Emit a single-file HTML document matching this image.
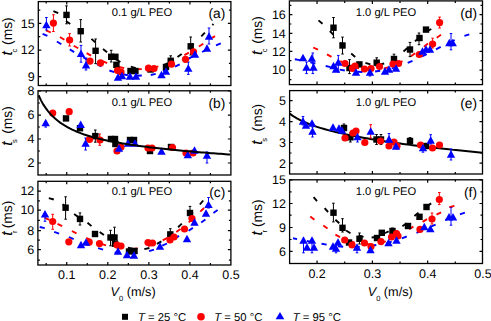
<!DOCTYPE html>
<html><head><meta charset="utf-8"><style>
html,body{margin:0;padding:0;background:#fff;width:491px;height:321px;overflow:hidden}
svg{position:absolute;left:0;top:0}
text{font-family:"Liberation Sans",sans-serif;fill:#000;text-rendering:geometricPrecision}
.tk{font-size:12.5px}
.lg{font-size:11.3px}
.at{font-size:12.7px}
.yt{font-size:13.8px}
.ti{font-size:11.2px}
.lb{font-size:13.8px}
</style></head><body>
<svg width="491" height="321" viewBox="0 0 491 321">
<rect x="38.3" y="1.6" width="192.60" height="83.90" fill="none" stroke="#000" stroke-width="1.3"/>
<path d="M38.3,76.6h3.0M230.9,76.6h-3.0M38.3,50.1h3.0M230.9,50.1h-3.0M38.3,23.4h3.0M230.9,23.4h-3.0M38.3,63.3h2.0M230.9,63.3h-2.0M38.3,36.7h2.0M230.9,36.7h-2.0M38.3,10.2h2.0M230.9,10.2h-2.0M66.74,85.5v-3.0M66.74,1.6v3.0M107.80,85.5v-3.0M107.80,1.6v3.0M148.86,85.5v-3.0M148.86,1.6v3.0M189.92,85.5v-3.0M189.92,1.6v3.0M46.21,85.5v-2.0M46.21,1.6v2.0M87.27,85.5v-2.0M87.27,1.6v2.0M128.33,85.5v-2.0M128.33,1.6v2.0M169.39,85.5v-2.0M169.39,1.6v2.0M210.45,85.5v-2.0M210.45,1.6v2.0" stroke="#000" stroke-width="1.2" fill="none"/>
<text x="34.7" y="80.9" text-anchor="end" class="tk">9</text>
<text x="34.7" y="54.4" text-anchor="end" class="tk">12</text>
<text x="34.7" y="27.7" text-anchor="end" class="tk">15</text>
<rect x="38.0" y="90.8" width="192.90" height="84.20" fill="none" stroke="#000" stroke-width="1.3"/>
<path d="M38.0,91.0h3.0M230.9,91.0h-3.0M38.0,115.1h3.0M230.9,115.1h-3.0M38.0,139.0h3.0M230.9,139.0h-3.0M38.0,163.0h3.0M230.9,163.0h-3.0M38.0,103h2.0M230.9,103h-2.0M38.0,127h2.0M230.9,127h-2.0M38.0,151h2.0M230.9,151h-2.0M66.74,175.0v-3.0M66.74,90.8v3.0M107.80,175.0v-3.0M107.80,90.8v3.0M148.86,175.0v-3.0M148.86,90.8v3.0M189.92,175.0v-3.0M189.92,90.8v3.0M46.21,175.0v-2.0M46.21,90.8v2.0M87.27,175.0v-2.0M87.27,90.8v2.0M128.33,175.0v-2.0M128.33,90.8v2.0M169.39,175.0v-2.0M169.39,90.8v2.0M210.45,175.0v-2.0M210.45,90.8v2.0" stroke="#000" stroke-width="1.2" fill="none"/>
<text x="34.4" y="95.3" text-anchor="end" class="tk">8</text>
<text x="34.4" y="119.4" text-anchor="end" class="tk">6</text>
<text x="34.4" y="143.3" text-anchor="end" class="tk">4</text>
<text x="34.4" y="167.3" text-anchor="end" class="tk">2</text>
<rect x="37.9" y="181.3" width="193.00" height="83.70" fill="none" stroke="#000" stroke-width="1.3"/>
<path d="M37.9,191.1h3.0M230.9,191.1h-3.0M37.9,210.1h3.0M230.9,210.1h-3.0M37.9,230.6h3.0M230.9,230.6h-3.0M37.9,249.6h3.0M230.9,249.6h-3.0M37.9,200.9h2.0M230.9,200.9h-2.0M37.9,220.3h2.0M230.9,220.3h-2.0M37.9,240.2h2.0M230.9,240.2h-2.0M37.9,260.2h2.0M230.9,260.2h-2.0M66.74,265.0v-3.0M66.74,181.3v3.0M107.80,265.0v-3.0M107.80,181.3v3.0M148.86,265.0v-3.0M148.86,181.3v3.0M189.92,265.0v-3.0M189.92,181.3v3.0M46.21,265.0v-2.0M46.21,181.3v2.0M87.27,265.0v-2.0M87.27,181.3v2.0M128.33,265.0v-2.0M128.33,181.3v2.0M169.39,265.0v-2.0M169.39,181.3v2.0M210.45,265.0v-2.0M210.45,181.3v2.0" stroke="#000" stroke-width="1.2" fill="none"/>
<text x="34.3" y="195.4" text-anchor="end" class="tk">12</text>
<text x="34.3" y="214.4" text-anchor="end" class="tk">10</text>
<text x="34.3" y="234.9" text-anchor="end" class="tk">8</text>
<text x="34.3" y="253.9" text-anchor="end" class="tk">6</text>
<rect x="289.4" y="0.9" width="193.10" height="83.70" fill="none" stroke="#000" stroke-width="1.3"/>
<path d="M289.4,14.6h3.0M482.5,14.6h-3.0M289.4,33.3h3.0M482.5,33.3h-3.0M289.4,51.4h3.0M482.5,51.4h-3.0M289.4,70.1h3.0M482.5,70.1h-3.0M289.4,5.3h2.0M482.5,5.3h-2.0M289.4,24h2.0M482.5,24h-2.0M289.4,42.3h2.0M482.5,42.3h-2.0M289.4,60.7h2.0M482.5,60.7h-2.0M289.4,79.7h2.0M482.5,79.7h-2.0M317.06,84.6v-3.0M317.06,0.9v3.0M372.37,84.6v-3.0M372.37,0.9v3.0M427.67,84.6v-3.0M427.67,0.9v3.0M344.71,84.6v-2.0M344.71,0.9v2.0M400.02,84.6v-2.0M400.02,0.9v2.0M455.33,84.6v-2.0M455.33,0.9v2.0" stroke="#000" stroke-width="1.2" fill="none"/>
<text x="285.8" y="18.9" text-anchor="end" class="tk">16</text>
<text x="285.8" y="37.6" text-anchor="end" class="tk">14</text>
<text x="285.8" y="55.7" text-anchor="end" class="tk">12</text>
<text x="285.8" y="74.4" text-anchor="end" class="tk">10</text>
<rect x="289.6" y="90.6" width="192.90" height="83.40" fill="none" stroke="#000" stroke-width="1.3"/>
<path d="M289.6,100.6h3.0M482.5,100.6h-3.0M289.6,121.6h3.0M482.5,121.6h-3.0M289.6,142.5h3.0M482.5,142.5h-3.0M289.6,163.2h3.0M482.5,163.2h-3.0M289.6,111.5h2.0M482.5,111.5h-2.0M289.6,132h2.0M482.5,132h-2.0M289.6,153h2.0M482.5,153h-2.0M317.06,174.0v-3.0M317.06,90.6v3.0M372.37,174.0v-3.0M372.37,90.6v3.0M427.67,174.0v-3.0M427.67,90.6v3.0M344.71,174.0v-2.0M344.71,90.6v2.0M400.02,174.0v-2.0M400.02,90.6v2.0M455.33,174.0v-2.0M455.33,90.6v2.0" stroke="#000" stroke-width="1.2" fill="none"/>
<text x="286.0" y="104.9" text-anchor="end" class="tk">5</text>
<text x="286.0" y="125.9" text-anchor="end" class="tk">4</text>
<text x="286.0" y="146.8" text-anchor="end" class="tk">3</text>
<text x="286.0" y="167.5" text-anchor="end" class="tk">2</text>
<rect x="289.6" y="179.8" width="192.90" height="83.70" fill="none" stroke="#000" stroke-width="1.3"/>
<path d="M289.6,179.8h3.0M482.5,179.8h-3.0M289.6,203.5h3.0M482.5,203.5h-3.0M289.6,227.5h3.0M482.5,227.5h-3.0M289.6,251.3h3.0M482.5,251.3h-3.0M289.6,191.8h2.0M482.5,191.8h-2.0M289.6,215.2h2.0M482.5,215.2h-2.0M289.6,239.5h2.0M482.5,239.5h-2.0M317.06,263.5v-3.0M317.06,179.8v3.0M372.37,263.5v-3.0M372.37,179.8v3.0M427.67,263.5v-3.0M427.67,179.8v3.0M344.71,263.5v-2.0M344.71,179.8v2.0M400.02,263.5v-2.0M400.02,179.8v2.0M455.33,263.5v-2.0M455.33,179.8v2.0" stroke="#000" stroke-width="1.2" fill="none"/>
<text x="286.0" y="184.1" text-anchor="end" class="tk">15</text>
<text x="286.0" y="207.8" text-anchor="end" class="tk">12</text>
<text x="286.0" y="231.8" text-anchor="end" class="tk">9</text>
<text x="286.0" y="255.6" text-anchor="end" class="tk">6</text>
<text x="66.7" y="278.8" text-anchor="middle" class="tk">0.1</text>
<text x="107.8" y="278.8" text-anchor="middle" class="tk">0.2</text>
<text x="148.9" y="278.8" text-anchor="middle" class="tk">0.3</text>
<text x="189.9" y="278.8" text-anchor="middle" class="tk">0.4</text>
<text x="231.0" y="278.8" text-anchor="middle" class="tk">0.5</text>
<text x="317.1" y="277.9" text-anchor="middle" class="tk">0.2</text>
<text x="372.4" y="277.9" text-anchor="middle" class="tk">0.3</text>
<text x="427.7" y="277.9" text-anchor="middle" class="tk">0.4</text>
<text x="483.0" y="277.9" text-anchor="middle" class="tk">0.5</text>
<text x="110.6" y="296" class="at"><tspan font-style="italic">V</tspan><tspan font-size="7.5" dy="5">0</tspan><tspan dy="-5"> (m/s)</tspan></text>
<text x="367.7" y="296" class="at"><tspan font-style="italic">V</tspan><tspan font-size="7.5" dy="5">0</tspan><tspan dy="-5"> (m/s)</tspan></text>
<text x="142" y="16.1" text-anchor="middle" class="ti">0.1 g/L PEO</text>
<text x="142" y="105.7" text-anchor="middle" class="ti">0.1 g/L PEO</text>
<text x="142" y="194.5" text-anchor="middle" class="ti">0.1 g/L PEO</text>
<text x="386" y="16.1" text-anchor="middle" class="ti">1.0 g/L PEO</text>
<text x="386" y="105.7" text-anchor="middle" class="ti">1.0 g/L PEO</text>
<text x="386" y="194.9" text-anchor="middle" class="ti">1.0 g/L PEO</text>
<text x="225.3" y="18" text-anchor="end" class="lb">(a)</text>
<text x="225.3" y="107.5" text-anchor="end" class="lb">(b)</text>
<text x="225.3" y="197" text-anchor="end" class="lb">(c)</text>
<text x="477" y="18.1" text-anchor="end" class="lb">(d)</text>
<text x="477" y="108" text-anchor="end" class="lb">(e)</text>
<text x="477" y="197" text-anchor="end" class="lb">(f)</text>
<text transform="translate(11.9,31.15) rotate(-90)" text-anchor="middle" class="yt">(ms)</text>
<text transform="translate(11.9,52.15) rotate(-90)" text-anchor="middle" class="yt"><tspan font-style="italic" font-size="15.5">t</tspan><tspan font-size="7.5" dy="4.8" dx="-1.5">c</tspan></text>
<text transform="translate(11.9,119.95) rotate(-90)" text-anchor="middle" class="yt">(ms)</text>
<text transform="translate(11.9,142.55) rotate(-90)" text-anchor="middle" class="yt"><tspan font-style="italic" font-size="15.5">t</tspan><tspan font-size="7.5" dy="4.8" dx="-1.5">s</tspan></text>
<text transform="translate(11.9,214.45) rotate(-90)" text-anchor="middle" class="yt">(ms)</text>
<text transform="translate(11.9,233.15) rotate(-90)" text-anchor="middle" class="yt"><tspan font-style="italic" font-size="15.5">t</tspan><tspan font-size="7.5" dy="4.8" dx="-1.5">r</tspan></text>
<text transform="translate(262.4,29.95) rotate(-90)" text-anchor="middle" class="yt">(ms)</text>
<text transform="translate(262.4,51.75) rotate(-90)" text-anchor="middle" class="yt"><tspan font-style="italic" font-size="15.5">t</tspan><tspan font-size="7.5" dy="4.8" dx="-1.5">c</tspan></text>
<text transform="translate(262.4,117.65) rotate(-90)" text-anchor="middle" class="yt">(ms)</text>
<text transform="translate(262.4,141.4) rotate(-90)" text-anchor="middle" class="yt"><tspan font-style="italic" font-size="15.5">t</tspan><tspan font-size="7.5" dy="4.8" dx="-1.5">s</tspan></text>
<text transform="translate(262.4,213.3) rotate(-90)" text-anchor="middle" class="yt">(ms)</text>
<text transform="translate(262.4,232.75) rotate(-90)" text-anchor="middle" class="yt"><tspan font-style="italic" font-size="15.5">t</tspan><tspan font-size="7.5" dy="4.8" dx="-1.5">r</tspan></text>
<rect x="122" y="313.8" width="6" height="6" fill="#000"/>
<text x="138" y="320.5" class="lg"><tspan font-style="italic">T</tspan> = 25 °C</text>
<circle cx="201" cy="316.8" r="3.8" fill="#f00"/>
<text x="214.3" y="320.5" class="lg"><tspan font-style="italic">T</tspan> = 50 °C</text>
<path d="M275.6,319.3L280,312L284.3,319.3Z" fill="#00f"/>
<text x="292.7" y="320.5" class="lg"><tspan font-style="italic">T</tspan> = 95 °C</text>
<path d="M53.4,11.1L58.2,13.1M66.0,20.9L70.2,24.0M79.1,29.2L83.0,32.7M91.4,38.9L95.3,42.3M103.0,49.1L107.1,52.3M115.9,59.4L120.4,62.0M130.8,66.7L135.8,68.1M147.1,69.1L152.3,68.6M163.2,65.4L167.9,63.2M177.5,57.0L181.7,53.9M189.9,47.3L193.7,43.8M201.3,36.3L204.9,32.6M212.4,25.1L213.5,24.0" fill="none" stroke="#000" stroke-width="1.9"/>
<path d="M46.1,30.3L50.8,32.5M59.9,37.0L64.4,39.7M73.7,45.7L78.2,48.3M86.6,53.1L91.1,55.6M102.4,61.1L107.2,63.1M119.1,67.0L124.2,68.1M136.6,69.2L141.8,69.1M153.3,67.6L158.4,66.4M169.3,62.5L174.1,60.4M184.4,55.1L188.9,52.6M198.9,46.5L203.3,43.7M212.1,37.9L215.0,36.1" fill="none" stroke="#f00" stroke-width="1.9"/>
<path d="M42.6,33.8L47.4,35.9M56.9,41.5L61.3,44.2M69.8,49.4L74.2,52.1M83.1,57.3L87.6,59.9M96.9,64.2L101.5,66.5M109.4,70.5L114.3,72.2M122.8,74.3L127.9,75.2M136.6,75.7L141.8,75.5M150.7,75.0L155.7,73.8M162.9,71.1L167.8,69.3M175.0,66.6L179.7,64.4M188.2,58.8L192.8,56.3M202.1,52.0L206.7,49.6M216.0,45.3L220.8,43.3" fill="none" stroke="#00f" stroke-width="1.9"/>
<path d="M66.5,5.9V23.8M65.2,5.9h2.6M65.2,23.8h2.6" stroke="#000" stroke-width="1" fill="none"/>
<path d="M80.7,19.6V42M79.4,19.6h2.6M79.4,42h2.6" stroke="#000" stroke-width="1" fill="none"/>
<path d="M95.6,39V63.6M94.3,39h2.6M94.3,63.6h2.6" stroke="#000" stroke-width="1" fill="none"/>
<path d="M111.2,50.3V62M109.9,50.3h2.6M109.9,62h2.6" stroke="#000" stroke-width="1" fill="none"/>
<path d="M170.7,55.8V66M169.39999999999998,55.8h2.6M169.39999999999998,66h2.6" stroke="#000" stroke-width="1" fill="none"/>
<path d="M190.7,37V55M189.39999999999998,37h2.6M189.39999999999998,55h2.6" stroke="#000" stroke-width="1" fill="none"/>
<path d="M53.4,14.7V31.5M52.1,14.7h2.6M52.1,31.5h2.6" stroke="#f00" stroke-width="1" fill="none"/>
<path d="M69.6,33.6V46M68.3,33.6h2.6M68.3,46h2.6" stroke="#f00" stroke-width="1" fill="none"/>
<path d="M46.4,17.5V30M45.1,17.5h2.6M45.1,30h2.6" stroke="#00f" stroke-width="1" fill="none"/>
<path d="M81,45.4V62.2M79.7,45.4h2.6M79.7,62.2h2.6" stroke="#00f" stroke-width="1" fill="none"/>
<path d="M86,58V70M84.7,58h2.6M84.7,70h2.6" stroke="#00f" stroke-width="1" fill="none"/>
<path d="M188.3,62V74.4M187.0,62h2.6M187.0,74.4h2.6" stroke="#00f" stroke-width="1" fill="none"/>
<path d="M209,28V44M207.7,28h2.6M207.7,44h2.6" stroke="#00f" stroke-width="1" fill="none"/>
<rect x="63.3" y="11.7" width="6.4" height="6.4" fill="#000"/>
<rect x="77.5" y="28.0" width="6.4" height="6.4" fill="#000"/>
<rect x="92.4" y="47.6" width="6.4" height="6.4" fill="#000"/>
<rect x="108.0" y="53.6" width="6.4" height="6.4" fill="#000"/>
<rect x="112.2" y="53.6" width="6.4" height="6.4" fill="#000"/>
<rect x="113.2" y="61.6" width="6.4" height="6.4" fill="#000"/>
<rect x="127.3" y="67.8" width="6.4" height="6.4" fill="#000"/>
<rect x="132.2" y="67.8" width="6.4" height="6.4" fill="#000"/>
<rect x="147.3" y="66.3" width="6.4" height="6.4" fill="#000"/>
<rect x="162.8" y="63.8" width="6.4" height="6.4" fill="#000"/>
<rect x="167.5" y="57.6" width="6.4" height="6.4" fill="#000"/>
<rect x="187.5" y="43.1" width="6.4" height="6.4" fill="#000"/>
<circle cx="53.4" cy="23.1" r="3.6" fill="#f00"/>
<circle cx="69.6" cy="40" r="3.6" fill="#f00"/>
<circle cx="90" cy="61.1" r="3.6" fill="#f00"/>
<circle cx="100.5" cy="62.9" r="3.6" fill="#f00"/>
<circle cx="117.5" cy="70.5" r="3.6" fill="#f00"/>
<circle cx="121" cy="72" r="3.6" fill="#f00"/>
<circle cx="148.5" cy="68.2" r="3.6" fill="#f00"/>
<circle cx="154" cy="68.5" r="3.6" fill="#f00"/>
<circle cx="171.5" cy="64.2" r="3.6" fill="#f00"/>
<circle cx="185.5" cy="59.3" r="3.6" fill="#f00"/>
<circle cx="193.5" cy="51.8" r="3.6" fill="#f00"/>
<path d="M42.2,28.3L46.4,20.7L50.6,28.3Z" fill="#00f"/>
<path d="M76.8,57.1L81.0,49.5L85.2,57.1Z" fill="#00f"/>
<path d="M81.8,68.5L86.0,60.9L90.2,68.5Z" fill="#00f"/>
<path d="M113.8,80.8L118.0,73.2L122.2,80.8Z" fill="#00f"/>
<path d="M117.8,79.3L122.0,71.7L126.2,79.3Z" fill="#00f"/>
<path d="M125.8,79.8L130.0,72.2L134.2,79.8Z" fill="#00f"/>
<path d="M131.8,79.8L136.0,72.2L140.2,79.8Z" fill="#00f"/>
<path d="M157.3,78.3L161.5,70.7L165.7,78.3Z" fill="#00f"/>
<path d="M161.8,74.8L166.0,67.2L170.2,74.8Z" fill="#00f"/>
<path d="M184.1,71.8L188.3,64.2L192.5,71.8Z" fill="#00f"/>
<path d="M190.8,57.8L195.0,50.2L199.2,57.8Z" fill="#00f"/>
<path d="M202.8,51.8L207.0,44.2L211.2,51.8Z" fill="#00f"/>
<path d="M204.8,39.8L209.0,32.2L213.2,39.8Z" fill="#00f"/>
<path d="M95.3,130V142.2M94.0,130h2.6M94.0,142.2h2.6" stroke="#000" stroke-width="1" fill="none"/>
<path d="M99.7,134V145.3M98.4,134h2.6M98.4,145.3h2.6" stroke="#f00" stroke-width="1" fill="none"/>
<path d="M45.7,122V127.1M44.400000000000006,122h2.6M44.400000000000006,127.1h2.6" stroke="#00f" stroke-width="1" fill="none"/>
<path d="M85.6,138V150M84.3,138h2.6M84.3,150h2.6" stroke="#00f" stroke-width="1" fill="none"/>
<path d="M207,152V163M205.7,152h2.6M205.7,163h2.6" stroke="#00f" stroke-width="1" fill="none"/>
<rect x="62.8" y="115.2" width="6.4" height="6.4" fill="#000"/>
<rect x="76.8" y="125.0" width="6.4" height="6.4" fill="#000"/>
<rect x="92.1" y="132.9" width="6.4" height="6.4" fill="#000"/>
<rect x="107.8" y="135.8" width="6.4" height="6.4" fill="#000"/>
<rect x="111.8" y="135.8" width="6.4" height="6.4" fill="#000"/>
<rect x="112.2" y="140.8" width="6.4" height="6.4" fill="#000"/>
<rect x="126.8" y="136.8" width="6.4" height="6.4" fill="#000"/>
<rect x="130.8" y="136.8" width="6.4" height="6.4" fill="#000"/>
<rect x="146.8" y="147.8" width="6.4" height="6.4" fill="#000"/>
<rect x="167.8" y="143.8" width="6.4" height="6.4" fill="#000"/>
<circle cx="52.7" cy="113.1" r="3.6" fill="#f00"/>
<circle cx="69.2" cy="111.7" r="3.6" fill="#f00"/>
<circle cx="89.6" cy="139.3" r="3.6" fill="#f00"/>
<circle cx="100" cy="140" r="3.6" fill="#f00"/>
<circle cx="117" cy="151" r="3.6" fill="#f00"/>
<circle cx="121" cy="147" r="3.6" fill="#f00"/>
<circle cx="148" cy="148" r="3.6" fill="#f00"/>
<circle cx="152" cy="148" r="3.6" fill="#f00"/>
<circle cx="172.5" cy="147.5" r="3.6" fill="#f00"/>
<circle cx="186" cy="153" r="3.6" fill="#f00"/>
<circle cx="193" cy="153" r="3.6" fill="#f00"/>
<path d="M41.5,126.3L45.7,118.7L49.9,126.3Z" fill="#00f"/>
<path d="M76.5,128.0L80.7,120.4L84.9,128.0Z" fill="#00f"/>
<path d="M81.4,146.8L85.6,139.2L89.8,146.8Z" fill="#00f"/>
<path d="M114.8,151.8L119.0,144.2L123.2,151.8Z" fill="#00f"/>
<path d="M123.8,146.8L128.0,139.2L132.2,146.8Z" fill="#00f"/>
<path d="M130.8,146.8L135.0,139.2L139.2,146.8Z" fill="#00f"/>
<path d="M157.3,154.8L161.5,147.2L165.7,154.8Z" fill="#00f"/>
<path d="M183.6,158.3L187.8,150.7L192.0,158.3Z" fill="#00f"/>
<path d="M190.3,153.8L194.5,146.2L198.7,153.8Z" fill="#00f"/>
<path d="M202.8,158.8L207.0,151.2L211.2,158.8Z" fill="#00f"/>
<path d="M38.60,95.22L41.00,100.37L43.40,104.62L45.79,108.23L48.19,111.36L50.59,114.12L52.98,116.58L55.38,118.78L57.78,120.77L60.18,122.57L62.58,124.22L64.97,125.73L67.37,127.12L69.77,128.40L72.17,129.59L74.56,130.69L76.96,131.72L79.36,132.68L81.75,133.58L84.15,134.43L86.55,135.22L88.95,135.97L91.34,136.68L93.74,137.36L96.14,137.99L98.54,138.60L100.94,139.18L103.33,139.73L105.73,140.26L108.13,140.77L110.53,141.25L112.92,141.72L115.32,142.17L117.72,142.60L120.12,143.02L122.51,143.42L124.91,143.81L127.31,144.19L129.71,144.56L132.10,144.91L134.50,145.26L136.90,145.59L139.30,145.92L141.69,146.24L144.09,146.55L146.49,146.85L148.89,147.15L151.28,147.44L153.68,147.72L156.08,148.00L158.47,148.27L160.87,148.53L163.27,148.79L165.67,149.05L168.06,149.30L170.46,149.54L172.86,149.78L175.26,150.02L177.66,150.25L180.05,150.48L182.45,150.71L184.85,150.93L187.25,151.14L189.64,151.36L192.04,151.57L194.44,151.77L196.84,151.98L199.23,152.18L201.63,152.38L204.03,152.57L206.42,152.77L208.82,152.96L211.22,153.14L213.62,153.33L216.02,153.51L218.41,153.69L220.81,153.87L223.21,154.04L225.61,154.22L228.00,154.39L230.40,154.55" fill="none" stroke="#000" stroke-width="2"/>
<path d="M48.8,198.1L53.8,199.5M62.6,204.2L67.0,207.0M74.1,213.9L78.2,217.1M87.5,222.7L91.5,226.1M99.7,231.9L103.9,235.0M112.7,241.8L117.4,244.1M127.9,247.8L133.0,248.6M144.3,249.2L149.4,248.0M156.9,243.8L161.4,241.3M168.3,236.6L172.4,233.3M178.1,227.2L181.8,223.6M189.5,216.3L192.9,212.4M199.9,204.5L203.2,200.5" fill="none" stroke="#000" stroke-width="1.9"/>
<path d="M44.7,217.9L49.5,219.9M57.5,223.8L62.2,226.2M71.9,231.0L76.5,233.3M86.2,237.9L91.0,240.0M101.1,243.9L106.1,245.4M116.6,247.8L121.7,248.4M132.5,248.9L137.7,248.4M148.1,246.1L153.0,244.5M162.7,240.3L167.3,237.8M176.3,232.1L180.5,229.1M188.7,222.4L192.6,219.0M200.3,211.7L204.0,208.0" fill="none" stroke="#f00" stroke-width="1.9"/>
<path d="M39.7,227.0L44.8,228.1M54.2,231.8L59.1,233.6M68.9,237.0L73.7,239.1M83.3,243.2L88.1,245.1M98.1,248.2L103.1,249.7M114.7,252.5L119.9,253.1M131.9,253.3L137.1,252.9M149.1,251.2L154.0,249.7M162.3,245.7L167.0,243.5M174.5,238.6L179.0,235.9M188.6,230.8L192.9,227.9M201.2,222.6L205.4,219.6M213.4,213.0L217.6,210.0" fill="none" stroke="#00f" stroke-width="1.9"/>
<path d="M65.6,196.8V219.2M64.3,196.8h2.6M64.3,219.2h2.6" stroke="#000" stroke-width="1" fill="none"/>
<path d="M80,212.9V225M78.7,212.9h2.6M78.7,225h2.6" stroke="#000" stroke-width="1" fill="none"/>
<path d="M110.5,230.3V245.8M109.2,230.3h2.6M109.2,245.8h2.6" stroke="#000" stroke-width="1" fill="none"/>
<path d="M114.5,227.2V244M113.2,227.2h2.6M113.2,244h2.6" stroke="#000" stroke-width="1" fill="none"/>
<path d="M170.3,228.7V240M169.0,228.7h2.6M169.0,240h2.6" stroke="#000" stroke-width="1" fill="none"/>
<path d="M190,206.4V218M188.7,206.4h2.6M188.7,218h2.6" stroke="#000" stroke-width="1" fill="none"/>
<path d="M52.7,214.3V229.3M51.400000000000006,214.3h2.6M51.400000000000006,229.3h2.6" stroke="#f00" stroke-width="1" fill="none"/>
<path d="M45,214V221.3M43.7,214h2.6M43.7,221.3h2.6" stroke="#00f" stroke-width="1" fill="none"/>
<path d="M208.5,197.5V208M207.2,197.5h2.6M207.2,208h2.6" stroke="#00f" stroke-width="1" fill="none"/>
<rect x="62.4" y="204.5" width="6.4" height="6.4" fill="#000"/>
<rect x="76.8" y="215.7" width="6.4" height="6.4" fill="#000"/>
<rect x="91.8" y="230.8" width="6.4" height="6.4" fill="#000"/>
<rect x="107.3" y="234.3" width="6.4" height="6.4" fill="#000"/>
<rect x="111.3" y="234.3" width="6.4" height="6.4" fill="#000"/>
<rect x="111.8" y="240.5" width="6.4" height="6.4" fill="#000"/>
<rect x="125.8" y="248.3" width="6.4" height="6.4" fill="#000"/>
<rect x="131.3" y="247.8" width="6.4" height="6.4" fill="#000"/>
<rect x="167.1" y="231.2" width="6.4" height="6.4" fill="#000"/>
<rect x="186.8" y="209.8" width="6.4" height="6.4" fill="#000"/>
<circle cx="52.7" cy="221.5" r="3.6" fill="#f00"/>
<circle cx="68.8" cy="241.8" r="3.6" fill="#f00"/>
<circle cx="89.2" cy="242.2" r="3.6" fill="#f00"/>
<circle cx="99.5" cy="243.6" r="3.6" fill="#f00"/>
<circle cx="117" cy="245" r="3.6" fill="#f00"/>
<circle cx="121" cy="246" r="3.6" fill="#f00"/>
<circle cx="148" cy="242.5" r="3.6" fill="#f00"/>
<circle cx="152.5" cy="243" r="3.6" fill="#f00"/>
<circle cx="170" cy="240" r="3.6" fill="#f00"/>
<circle cx="174" cy="237" r="3.6" fill="#f00"/>
<circle cx="184.5" cy="229" r="3.6" fill="#f00"/>
<circle cx="192" cy="218.5" r="3.6" fill="#f00"/>
<path d="M40.8,217.6L45.0,210.0L49.2,217.6Z" fill="#00f"/>
<path d="M76.8,248.3L81.0,240.7L85.2,248.3Z" fill="#00f"/>
<path d="M81.8,245.8L86.0,238.2L90.2,245.8Z" fill="#00f"/>
<path d="M113.8,254.8L118.0,247.2L122.2,254.8Z" fill="#00f"/>
<path d="M122.8,258.3L127.0,250.7L131.2,258.3Z" fill="#00f"/>
<path d="M129.8,258.8L134.0,251.2L138.2,258.8Z" fill="#00f"/>
<path d="M155.8,249.8L160.0,242.2L164.2,249.8Z" fill="#00f"/>
<path d="M182.8,242.3L187.0,234.7L191.2,242.3Z" fill="#00f"/>
<path d="M190.3,225.8L194.5,218.2L198.7,225.8Z" fill="#00f"/>
<path d="M201.8,216.8L206.0,209.2L210.2,216.8Z" fill="#00f"/>
<path d="M204.3,208.0L208.5,200.4L212.7,208.0Z" fill="#00f"/>
<path d="M318.5,20.4L322.5,23.8M329.9,31.0L333.5,34.8M340.3,42.6L343.9,46.3M351.2,53.6L355.2,56.9M365.4,62.9L370.4,64.4M379.2,64.7L384.2,63.5M392.2,59.8L396.6,57.0M403.5,51.5L407.4,48.0M415.0,41.3L418.9,37.9M426.8,31.5L431.3,29.0" fill="none" stroke="#000" stroke-width="1.9"/>
<path d="M313.2,47.5L318.0,49.6M327.0,54.3L331.5,56.8M340.3,61.2L345.0,63.4M354.1,66.9L359.1,68.3M368.8,69.8L374.0,69.9M383.7,68.6L388.7,67.2M397.8,63.6L402.5,61.2M410.9,56.2L415.2,53.3M423.9,46.7L428.0,43.6M436.7,37.7L441.0,34.8" fill="none" stroke="#f00" stroke-width="1.9"/>
<path d="M294.8,59.2L300.0,60.1M310.3,62.3L315.4,63.5M325.7,66.0L330.7,67.2M339.6,69.6L344.8,70.5M357.3,71.8L362.5,72.0M375.1,71.5L380.2,70.8M391.7,68.4L396.7,67.0M407.7,62.8L412.5,60.8M422.1,56.5L426.7,54.2M436.0,49.4L440.7,46.9M450.0,42.2L454.7,40.0M464.4,35.9L469.3,34.3" fill="none" stroke="#00f" stroke-width="1.9"/>
<path d="M333.5,17.5V37.8M332.2,17.5h2.6M332.2,37.8h2.6" stroke="#000" stroke-width="1" fill="none"/>
<path d="M342.5,37.1V54M341.2,37.1h2.6M341.2,54h2.6" stroke="#000" stroke-width="1" fill="none"/>
<path d="M349.5,59.6V73.6M348.2,59.6h2.6M348.2,73.6h2.6" stroke="#000" stroke-width="1" fill="none"/>
<path d="M376.7,57.8V66M375.4,57.8h2.6M375.4,66h2.6" stroke="#000" stroke-width="1" fill="none"/>
<path d="M394,54.2V62M392.7,54.2h2.6M392.7,62h2.6" stroke="#000" stroke-width="1" fill="none"/>
<path d="M410,42.4V56.6M408.7,42.4h2.6M408.7,56.6h2.6" stroke="#000" stroke-width="1" fill="none"/>
<path d="M419,33V44.7M417.7,33h2.6M417.7,44.7h2.6" stroke="#000" stroke-width="1" fill="none"/>
<path d="M432.6,38.2V48M431.3,38.2h2.6M431.3,48h2.6" stroke="#f00" stroke-width="1" fill="none"/>
<path d="M439.6,17.1V28M438.3,17.1h2.6M438.3,28h2.6" stroke="#f00" stroke-width="1" fill="none"/>
<path d="M306.5,62V73.6M305.2,62h2.6M305.2,73.6h2.6" stroke="#00f" stroke-width="1" fill="none"/>
<path d="M312.8,53V73.6M311.5,53h2.6M311.5,73.6h2.6" stroke="#00f" stroke-width="1" fill="none"/>
<path d="M338.3,55.4V72M337.0,55.4h2.6M337.0,72h2.6" stroke="#00f" stroke-width="1" fill="none"/>
<path d="M370,68V76M368.7,68h2.6M368.7,76h2.6" stroke="#00f" stroke-width="1" fill="none"/>
<path d="M451,33.5V49.8M449.7,33.5h2.6M449.7,49.8h2.6" stroke="#00f" stroke-width="1" fill="none"/>
<rect x="330.3" y="24.5" width="6.4" height="6.4" fill="#000"/>
<rect x="339.3" y="42.3" width="6.4" height="6.4" fill="#000"/>
<rect x="346.3" y="64.8" width="6.4" height="6.4" fill="#000"/>
<rect x="356.2" y="61.2" width="6.4" height="6.4" fill="#000"/>
<rect x="373.5" y="59.5" width="6.4" height="6.4" fill="#000"/>
<rect x="390.8" y="55.8" width="6.4" height="6.4" fill="#000"/>
<rect x="406.8" y="46.3" width="6.4" height="6.4" fill="#000"/>
<rect x="416.3" y="34.8" width="6.4" height="6.4" fill="#000"/>
<rect x="422.8" y="26.4" width="6.4" height="6.4" fill="#000"/>
<circle cx="345" cy="63.5" r="3.6" fill="#f00"/>
<circle cx="352.5" cy="68.3" r="3.6" fill="#f00"/>
<circle cx="355" cy="66" r="3.6" fill="#f00"/>
<circle cx="364.5" cy="69" r="3.6" fill="#f00"/>
<circle cx="371" cy="68.5" r="3.6" fill="#f00"/>
<circle cx="379.5" cy="66.5" r="3.6" fill="#f00"/>
<circle cx="393" cy="64" r="3.6" fill="#f00"/>
<circle cx="398.5" cy="63.5" r="3.6" fill="#f00"/>
<circle cx="419.3" cy="54.5" r="3.6" fill="#f00"/>
<circle cx="432.6" cy="44" r="3.6" fill="#f00"/>
<circle cx="439.6" cy="22.6" r="3.6" fill="#f00"/>
<path d="M298.8,61.3L303.0,53.7L307.2,61.3Z" fill="#00f"/>
<path d="M307.6,61.8L311.8,54.2L316.0,61.8Z" fill="#00f"/>
<path d="M302.3,70.8L306.5,63.2L310.7,70.8Z" fill="#00f"/>
<path d="M309.3,70.8L313.5,63.2L317.7,70.8Z" fill="#00f"/>
<path d="M329.3,69.3L333.5,61.7L337.7,69.3Z" fill="#00f"/>
<path d="M334.1,65.8L338.3,58.2L342.5,65.8Z" fill="#00f"/>
<path d="M331.8,72.8L336.0,65.2L340.2,72.8Z" fill="#00f"/>
<path d="M351.8,75.8L356.0,68.2L360.2,75.8Z" fill="#00f"/>
<path d="M365.8,75.8L370.0,68.2L374.2,75.8Z" fill="#00f"/>
<path d="M380.8,74.8L385.0,67.2L389.2,74.8Z" fill="#00f"/>
<path d="M384.8,72.8L389.0,65.2L393.2,72.8Z" fill="#00f"/>
<path d="M391.8,71.8L396.0,64.2L400.2,71.8Z" fill="#00f"/>
<path d="M418.3,54.8L422.5,47.2L426.7,54.8Z" fill="#00f"/>
<path d="M421.8,52.8L426.0,45.2L430.2,52.8Z" fill="#00f"/>
<path d="M425.8,52.8L430.0,45.2L434.2,52.8Z" fill="#00f"/>
<path d="M445.1,46.3L449.3,38.7L453.5,46.3Z" fill="#00f"/>
<path d="M448.5,46.3L452.7,38.7L456.9,46.3Z" fill="#00f"/>
<path d="M289.70,113.60L292.11,115.39L294.51,116.98L296.92,118.41L299.33,119.71L301.74,120.91L304.14,122.02L306.55,123.04L308.96,124.01L311.37,124.91L313.77,125.77L316.18,126.58L318.59,127.36L321.00,128.10L323.40,128.80L325.81,129.48L328.22,130.14L330.63,130.77L333.03,131.38L335.44,131.97L337.85,132.54L340.26,133.09L342.67,133.63L345.07,134.16L347.48,134.67L349.89,135.17L352.30,135.65L354.70,136.13L357.11,136.59L359.52,137.05L361.93,137.49L364.33,137.93L366.74,138.35L369.15,138.77L371.56,139.18L373.96,139.58L376.37,139.98L378.78,140.37L381.19,140.75L383.59,141.12L386.00,141.49L388.41,141.85L390.81,142.21L393.22,142.56L395.63,142.90L398.04,143.24L400.44,143.58L402.85,143.91L405.26,144.23L407.67,144.55L410.08,144.87L412.48,145.18L414.89,145.48L417.30,145.78L419.71,146.08L422.11,146.38L424.52,146.67L426.93,146.95L429.34,147.23L431.74,147.51L434.15,147.79L436.56,148.06L438.97,148.33L441.37,148.59L443.78,148.85L446.19,149.11L448.60,149.36L451.00,149.62L453.41,149.87L455.82,150.11L458.23,150.35L460.63,150.59L463.04,150.83L465.45,151.07L467.86,151.30L470.26,151.53L472.67,151.76L475.08,151.98L477.49,152.20L479.89,152.42L482.30,152.64" fill="none" stroke="#000" stroke-width="2"/>
<path d="M344,124V132M342.7,124h2.6M342.7,132h2.6" stroke="#000" stroke-width="1" fill="none"/>
<path d="M410,137.6V144M408.7,137.6h2.6M408.7,144h2.6" stroke="#000" stroke-width="1" fill="none"/>
<path d="M350.4,133V142M349.09999999999997,133h2.6M349.09999999999997,142h2.6" stroke="#000" stroke-width="1" fill="none"/>
<path d="M376.5,134.5V144.5M375.2,134.5h2.6M375.2,144.5h2.6" stroke="#000" stroke-width="1" fill="none"/>
<path d="M381,134.5V144.5M379.7,134.5h2.6M379.7,144.5h2.6" stroke="#000" stroke-width="1" fill="none"/>
<path d="M357.5,131V142M356.2,131h2.6M356.2,142h2.6" stroke="#00f" stroke-width="1" fill="none"/>
<path d="M389,133.5V144M387.7,133.5h2.6M387.7,144h2.6" stroke="#00f" stroke-width="1" fill="none"/>
<path d="M370.7,124.7V138M369.4,124.7h2.6M369.4,138h2.6" stroke="#f00" stroke-width="1" fill="none"/>
<path d="M303,116.5V125M301.7,116.5h2.6M301.7,125h2.6" stroke="#00f" stroke-width="1" fill="none"/>
<path d="M312.5,127V137M311.2,127h2.6M311.2,137h2.6" stroke="#00f" stroke-width="1" fill="none"/>
<path d="M430.7,134.7V144M429.4,134.7h2.6M429.4,144h2.6" stroke="#00f" stroke-width="1" fill="none"/>
<path d="M423,144V152.2M421.7,144h2.6M421.7,152.2h2.6" stroke="#00f" stroke-width="1" fill="none"/>
<path d="M451,149V160M449.7,149h2.6M449.7,160h2.6" stroke="#00f" stroke-width="1" fill="none"/>
<rect x="340.8" y="124.8" width="6.4" height="6.4" fill="#000"/>
<rect x="347.2" y="134.1" width="6.4" height="6.4" fill="#000"/>
<rect x="373.3" y="136.3" width="6.4" height="6.4" fill="#000"/>
<rect x="377.8" y="136.3" width="6.4" height="6.4" fill="#000"/>
<rect x="406.8" y="137.8" width="6.4" height="6.4" fill="#000"/>
<rect x="422.8" y="142.8" width="6.4" height="6.4" fill="#000"/>
<circle cx="345" cy="138" r="3.6" fill="#f00"/>
<circle cx="353" cy="133" r="3.6" fill="#f00"/>
<circle cx="356" cy="131" r="3.6" fill="#f00"/>
<circle cx="364.8" cy="142.5" r="3.6" fill="#f00"/>
<circle cx="380.5" cy="141" r="3.6" fill="#f00"/>
<circle cx="389" cy="146" r="3.6" fill="#f00"/>
<circle cx="394" cy="142" r="3.6" fill="#f00"/>
<circle cx="397" cy="146" r="3.6" fill="#f00"/>
<circle cx="420.5" cy="145" r="3.6" fill="#f00"/>
<circle cx="432.5" cy="148" r="3.6" fill="#f00"/>
<circle cx="439.5" cy="145" r="3.6" fill="#f00"/>
<path d="M298.8,124.8L303.0,117.2L307.2,124.8Z" fill="#00f"/>
<path d="M301.8,128.8L306.0,121.2L310.2,128.8Z" fill="#00f"/>
<path d="M307.8,126.8L312.0,119.2L316.2,126.8Z" fill="#00f"/>
<path d="M308.3,134.8L312.5,127.2L316.7,134.8Z" fill="#00f"/>
<path d="M328.8,130.8L333.0,123.2L337.2,130.8Z" fill="#00f"/>
<path d="M334.8,131.8L339.0,124.2L343.2,131.8Z" fill="#00f"/>
<path d="M337.8,133.8L342.0,126.2L346.2,133.8Z" fill="#00f"/>
<path d="M353.3,140.3L357.5,132.7L361.7,140.3Z" fill="#00f"/>
<path d="M366.5,134.8L370.7,127.2L374.9,134.8Z" fill="#00f"/>
<path d="M384.8,142.8L389.0,135.2L393.2,142.8Z" fill="#00f"/>
<path d="M391.8,149.8L396.0,142.2L400.2,149.8Z" fill="#00f"/>
<path d="M418.8,151.3L423.0,143.7L427.2,151.3Z" fill="#00f"/>
<path d="M426.5,143.8L430.7,136.2L434.9,143.8Z" fill="#00f"/>
<path d="M446.8,157.8L451.0,150.2L455.2,157.8Z" fill="#00f"/>
<path d="M313.6,197.1L317.0,201.1M324.6,208.1L328.1,212.0M335.4,219.7L339.3,223.2M346.1,230.5L350.5,233.2M358.5,235.4L363.5,236.8M371.6,237.5L376.7,237.0M383.9,233.5L388.7,231.4M402.4,226.3L406.6,223.3M414.4,215.9L418.5,212.7M426.9,206.3L431.2,203.4" fill="none" stroke="#000" stroke-width="1.9"/>
<path d="M310.3,216.5L314.4,219.8M323.3,225.4L327.5,228.4M335.4,234.7L340.0,237.2M349.8,241.1L354.8,242.6M365.2,244.2L370.4,244.3M380.8,242.8L385.8,241.4M395.6,237.6L400.3,235.3M409.0,229.3L413.4,226.6M422.6,221.9L427.0,219.1M436.5,214.7L441.1,212.3M449.4,207.2L454.4,205.9" fill="none" stroke="#f00" stroke-width="1.9"/>
<path d="M293.0,238.2L297.1,239.1M306.8,241.0L311.9,242.1M321.5,243.8L326.7,244.6M338.0,246.3L343.2,246.7M354.6,247.0L359.8,246.9M371.1,245.8L376.3,245.0M386.7,242.9L391.7,241.6M401.8,238.3L406.7,236.5M416.5,232.8L421.3,230.8M430.8,226.7L435.6,224.6M445.3,220.2L450.1,218.2M459.9,214.4L464.9,212.7" fill="none" stroke="#00f" stroke-width="1.9"/>
<path d="M333.4,203.2V221.9M332.09999999999997,203.2h2.6M332.09999999999997,221.9h2.6" stroke="#000" stroke-width="1" fill="none"/>
<path d="M342.5,218.7V232M341.2,218.7h2.6M341.2,232h2.6" stroke="#000" stroke-width="1" fill="none"/>
<path d="M359.5,233V244M358.2,233h2.6M358.2,244h2.6" stroke="#000" stroke-width="1" fill="none"/>
<path d="M392.5,228V236M391.2,228h2.6M391.2,236h2.6" stroke="#000" stroke-width="1" fill="none"/>
<path d="M439.3,192.5V204.6M438.0,192.5h2.6M438.0,204.6h2.6" stroke="#f00" stroke-width="1" fill="none"/>
<path d="M432,213V224M430.7,213h2.6M430.7,224h2.6" stroke="#f00" stroke-width="1" fill="none"/>
<path d="M303.5,240V252.8M302.2,240h2.6M302.2,252.8h2.6" stroke="#00f" stroke-width="1" fill="none"/>
<path d="M312,240V252.8M310.7,240h2.6M310.7,252.8h2.6" stroke="#00f" stroke-width="1" fill="none"/>
<path d="M336,244V252.8M334.7,244h2.6M334.7,252.8h2.6" stroke="#00f" stroke-width="1" fill="none"/>
<path d="M357,246V252.8M355.7,246h2.6M355.7,252.8h2.6" stroke="#00f" stroke-width="1" fill="none"/>
<path d="M451,207.5V225.2M449.7,207.5h2.6M449.7,225.2h2.6" stroke="#00f" stroke-width="1" fill="none"/>
<path d="M449.5,206.8h3" stroke="#f00" stroke-width="1.2"/>
<rect x="330.3" y="209.5" width="6.4" height="6.4" fill="#000"/>
<rect x="339.3" y="224.6" width="6.4" height="6.4" fill="#000"/>
<rect x="345.8" y="239.3" width="6.4" height="6.4" fill="#000"/>
<rect x="356.3" y="235.6" width="6.4" height="6.4" fill="#000"/>
<rect x="373.8" y="234.8" width="6.4" height="6.4" fill="#000"/>
<rect x="378.6" y="229.6" width="6.4" height="6.4" fill="#000"/>
<rect x="389.3" y="227.8" width="6.4" height="6.4" fill="#000"/>
<rect x="404.8" y="222.8" width="6.4" height="6.4" fill="#000"/>
<rect x="416.3" y="213.6" width="6.4" height="6.4" fill="#000"/>
<rect x="423.3" y="203.8" width="6.4" height="6.4" fill="#000"/>
<circle cx="344.7" cy="240" r="3.6" fill="#f00"/>
<circle cx="352" cy="245" r="3.6" fill="#f00"/>
<circle cx="364.5" cy="243" r="3.6" fill="#f00"/>
<circle cx="371" cy="246.5" r="3.6" fill="#f00"/>
<circle cx="381" cy="241.6" r="3.6" fill="#f00"/>
<circle cx="391.5" cy="237" r="3.6" fill="#f00"/>
<circle cx="396.5" cy="233.5" r="3.6" fill="#f00"/>
<circle cx="398" cy="236" r="3.6" fill="#f00"/>
<circle cx="420" cy="229.4" r="3.6" fill="#f00"/>
<circle cx="432" cy="219" r="3.6" fill="#f00"/>
<circle cx="439.3" cy="199.5" r="3.6" fill="#f00"/>
<path d="M299.3,243.8L303.5,236.2L307.7,243.8Z" fill="#00f"/>
<path d="M307.8,243.8L312.0,236.2L316.2,243.8Z" fill="#00f"/>
<path d="M302.8,250.8L307.0,243.2L311.2,250.8Z" fill="#00f"/>
<path d="M309.8,250.8L314.0,243.2L318.2,250.8Z" fill="#00f"/>
<path d="M328.8,249.8L333.0,242.2L337.2,249.8Z" fill="#00f"/>
<path d="M333.8,245.8L338.0,238.2L342.2,245.8Z" fill="#00f"/>
<path d="M331.8,251.8L336.0,244.2L340.2,251.8Z" fill="#00f"/>
<path d="M352.8,250.8L357.0,243.2L361.2,250.8Z" fill="#00f"/>
<path d="M366.3,253.3L370.5,245.7L374.7,253.3Z" fill="#00f"/>
<path d="M384.3,246.3L388.5,238.7L392.7,246.3Z" fill="#00f"/>
<path d="M392.3,243.8L396.5,236.2L400.7,243.8Z" fill="#00f"/>
<path d="M420.1,230.3L424.3,222.7L428.5,230.3Z" fill="#00f"/>
<path d="M426.2,232.3L430.4,224.7L434.6,232.3Z" fill="#00f"/>
<path d="M444.8,220.6L449.0,213.0L453.2,220.6Z" fill="#00f"/>
<path d="M448.8,220.6L453.0,213.0L457.2,220.6Z" fill="#00f"/>
</svg></body></html>
